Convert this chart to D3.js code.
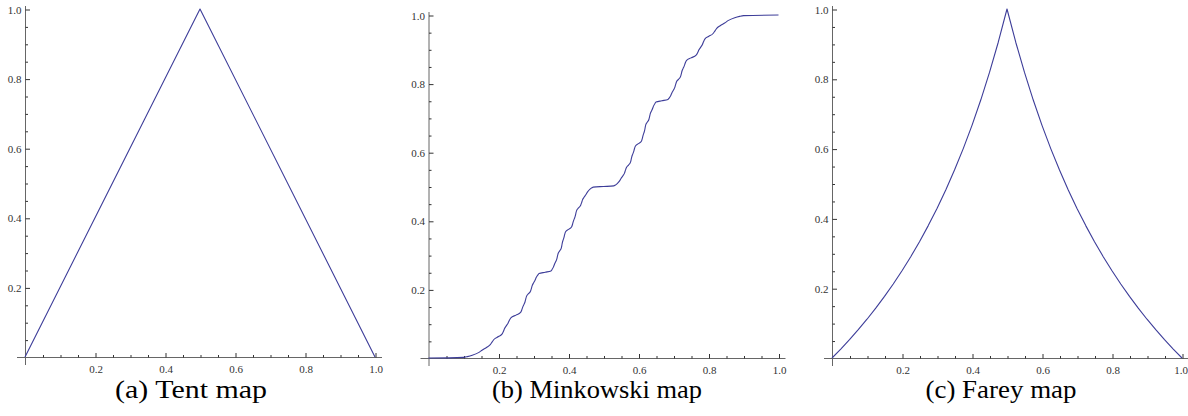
<!DOCTYPE html>
<html>
<head>
<meta charset="utf-8">
<script src="https://cdn.jsdelivr.net/npm/d3@7/dist/d3.min.js"></script>
<style>
  html, body { margin: 0; padding: 0; background: #ffffff; }
  svg { display: block; }
</style>
</head>
<body>
<svg id="chart" width="1188" height="416"></svg>
<script>
// ---------------- data ----------------
const captions = ["(a) Tent map", "(b) Minkowski map", "(c) Farey map"];
const majorTicks = [0.2, 0.4, 0.6, 0.8, 1.0];
const minorTicks = [0.05, 0.1, 0.15, 0.25, 0.3, 0.35, 0.45, 0.5, 0.55, 0.65, 0.7, 0.75, 0.85, 0.9, 0.95];

const tentX = [0, 0.5, 1];
const tentY = [0, 1, 0];

const minkX = [0, 0.1, 0.1111, 0.125, 0.142857, 0.153846, 0.166667, 0.176471, 0.181818, 0.1875, 0.2,
  0.210526, 0.214286, 0.217391, 0.222222, 0.227273, 0.230769, 0.235294, 0.25,
  0.263158, 0.266667, 0.269231, 0.272727, 0.275862, 0.277778, 0.28, 0.285714,
  0.291667, 0.294118, 0.296296, 0.3, 0.304348, 0.307692, 0.3125, 0.315789, 0.333333,
  0.35, 0.352941, 0.357143, 0.36, 0.363636, 0.366667, 0.368421, 0.37037, 0.375,
  0.37931, 0.380952, 0.382353, 0.384615, 0.387097, 0.388889, 0.391304, 0.4,
  0.409091, 0.411765, 0.413793, 0.416667, 0.419355, 0.421053, 0.423077, 0.428571,
  0.434783, 0.4375, 0.44, 0.444444, 0.45, 0.454545, 0.461538, 0.466667, 0.470588, 0.5,
  0.529412, 0.533333, 0.538462, 0.545455, 0.55, 0.555556, 0.56, 0.5625, 0.565217, 0.571429,
  0.576923, 0.578947, 0.580645, 0.583333, 0.586207, 0.588235, 0.590909, 0.6,
  0.608696, 0.611111, 0.612903, 0.615385, 0.617647, 0.619048, 0.62069, 0.625,
  0.62963, 0.631579, 0.633333, 0.636364, 0.64, 0.642857, 0.647059, 0.65, 0.666667,
  0.684211, 0.6875, 0.692308, 0.695652, 0.7, 0.703704, 0.705882, 0.708333, 0.714286,
  0.72, 0.722222, 0.724138, 0.727273, 0.730769, 0.733333, 0.736842, 0.75,
  0.764706, 0.769231, 0.772727, 0.777778, 0.782609, 0.785714, 0.789474, 0.8,
  0.8125, 0.818182, 0.823529, 0.833333, 0.846154, 0.857143, 0.875, 0.888889, 0.9, 1];
const minkY = [0, 0.00195, 0.0039, 0.0078125, 0.015625, 0.0234375, 0.03125, 0.0390625, 0.046875, 0.0546875, 0.0625,
  0.0703125, 0.078125, 0.0859375, 0.09375, 0.1015625, 0.109375, 0.1171875, 0.125,
  0.1328125, 0.140625, 0.1484375, 0.15625, 0.1640625, 0.171875, 0.1796875, 0.1875,
  0.1953125, 0.203125, 0.2109375, 0.21875, 0.2265625, 0.234375, 0.2421875, 0.2460938, 0.25,
  0.2539063, 0.2578125, 0.265625, 0.2734375, 0.28125, 0.2890625, 0.296875, 0.3046875, 0.3125,
  0.3203125, 0.328125, 0.3359375, 0.34375, 0.3515625, 0.359375, 0.3671875, 0.375,
  0.3828125, 0.390625, 0.3984375, 0.40625, 0.4140625, 0.421875, 0.4296875, 0.4375,
  0.4453125, 0.453125, 0.4609375, 0.46875, 0.4765625, 0.484375, 0.4921875, 0.4960938, 0.498047, 0.5,
  0.501953, 0.5039063, 0.5078125, 0.515625, 0.5234375, 0.53125, 0.5390625, 0.546875, 0.5546875, 0.5625,
  0.5703125, 0.578125, 0.5859375, 0.59375, 0.6015625, 0.609375, 0.6171875, 0.625,
  0.6328125, 0.640625, 0.6484375, 0.65625, 0.6640625, 0.671875, 0.6796875, 0.6875,
  0.6953125, 0.703125, 0.7109375, 0.71875, 0.7265625, 0.734375, 0.7421875, 0.7460938, 0.75,
  0.7539063, 0.7578125, 0.765625, 0.7734375, 0.78125, 0.7890625, 0.796875, 0.8046875, 0.8125,
  0.8203125, 0.828125, 0.8359375, 0.84375, 0.8515625, 0.859375, 0.8671875, 0.875,
  0.8828125, 0.890625, 0.8984375, 0.90625, 0.9140625, 0.921875, 0.9296875, 0.9375,
  0.9453125, 0.953125, 0.9609375, 0.96875, 0.9765625, 0.984375, 0.9921875, 0.9960938, 0.998047, 1];

const fareyX = [0, 0.025, 0.05, 0.075, 0.1, 0.125, 0.15, 0.175, 0.2, 0.225, 0.25, 0.275, 0.3, 0.325, 0.35, 0.375, 0.4, 0.425, 0.45, 0.475, 0.5,
  0.525, 0.55, 0.575, 0.6, 0.625, 0.65, 0.675, 0.7, 0.725, 0.75, 0.775, 0.8, 0.825, 0.85, 0.875, 0.9, 0.925, 0.95, 0.975, 1];
const fareyY = [0, 0.0256, 0.0526, 0.0811, 0.1111, 0.1429, 0.1765, 0.2121, 0.25, 0.2903, 0.3333, 0.3793, 0.4286, 0.4815, 0.5385, 0.6, 0.6667, 0.7391, 0.8182, 0.9048, 1,
  0.9048, 0.8182, 0.7391, 0.6667, 0.6, 0.5385, 0.4815, 0.4286, 0.3793, 0.3333, 0.2903, 0.25, 0.2121, 0.1765, 0.1429, 0.1111, 0.0811, 0.0526, 0.0256, 0];

// ---------------- layout ----------------
const panels = [
  { xs: tentX,  ys: tentY,  x0: 25,    x1: 375,    y0: 357, y1: 9,  cap: 191,  smooth: false },
  { xs: minkX,  ys: minkY,  x0: 428.5, x1: 778.5,  y0: 358, y1: 15, cap: 597,  smooth: true },
  { xs: fareyX, ys: fareyY, x0: 832,   x1: 1182,   y0: 358, y1: 9,  cap: 1001, smooth: false }
];
const capWidths = [152, 210, 151];
const curveColor = "#3d3d99";
const axisColor = "#666";
const tickColor = "#333";
const serif = "'Liberation Serif', 'Times New Roman', serif";

const svg = d3.select("#chart");

panels.forEach((p, i) => {
  const x = d3.scaleLinear().domain([0, 1]).range([p.x0, p.x1]);
  const y = d3.scaleLinear().domain([0, 1]).range([p.y0, p.y1]);
  const g = svg.append("g");

  // axis lines (slightly extended past origin, as in the original)
  g.append("line").attr("x1", x(0) - 8).attr("x2", x(1) + 7).attr("y1", y(0) + 0.5).attr("y2", y(0) + 0.5)
    .attr("stroke", axisColor).attr("stroke-width", 1);
  g.append("line").attr("x1", x(0) + 0.5).attr("x2", x(0) + 0.5).attr("y1", y(0) + 8).attr("y2", y(1) - 3)
    .attr("stroke", axisColor).attr("stroke-width", 1);

  const xMajor = g.append("g").attr("transform", `translate(0.5,${y(0) + 0.5})`)
    .call(d3.axisBottom(x).tickValues(majorTicks).tickSize(-4.5).tickPadding(8).tickFormat(d3.format(".1f")));
  const xMinor = g.append("g").attr("transform", `translate(0.5,${y(0) + 0.5})`)
    .call(d3.axisBottom(x).tickValues(minorTicks).tickSize(-2.5).tickFormat(""));
  const yMajor = g.append("g").attr("transform", `translate(${x(0) + 0.5},0.5)`)
    .call(d3.axisLeft(y).tickValues(majorTicks).tickSize(-4.5).tickPadding(4).tickFormat(d3.format(".1f")));
  const yMinor = g.append("g").attr("transform", `translate(${x(0) + 0.5},0.5)`)
    .call(d3.axisLeft(y).tickValues(minorTicks).tickSize(-2.5).tickFormat(""));
  [xMajor, xMinor, yMajor, yMinor].forEach(a => {
    a.select(".domain").remove();
    a.attr("font-family", serif).attr("font-size", 11);
    a.selectAll(".tick line").attr("stroke", tickColor);
    a.selectAll(".tick text").attr("fill", "#333").attr("font-family", serif).attr("font-size", 11);
  });
  // keep the last x label inside the picture for the right-most panel
  if (i === 2) {
    xMajor.selectAll(".tick text").filter(d => d === 1).attr("dx", -2);
  }

  // curve
  const pts = p.xs.map((v, k) => [v, p.ys[k]]);
  g.append("path").datum(pts)
    .attr("fill", "none").attr("stroke", curveColor).attr("stroke-width", 1.1)
    .attr("stroke-linejoin", "round")
    .attr("d", d3.line().x(d => x(d[0])).y(d => y(d[1])).curve(p.smooth ? d3.curveMonotoneX : d3.curveLinear));

  // caption
  g.append("text")
    .attr("font-family", serif).attr("font-size", 26).attr("fill", "#000")
    .attr("x", p.cap).attr("y", 398).attr("text-anchor", "middle")
    .attr("textLength", capWidths[i]).attr("lengthAdjust", "spacingAndGlyphs")
    .text(captions[i]);
});
</script>
</body>
</html>
